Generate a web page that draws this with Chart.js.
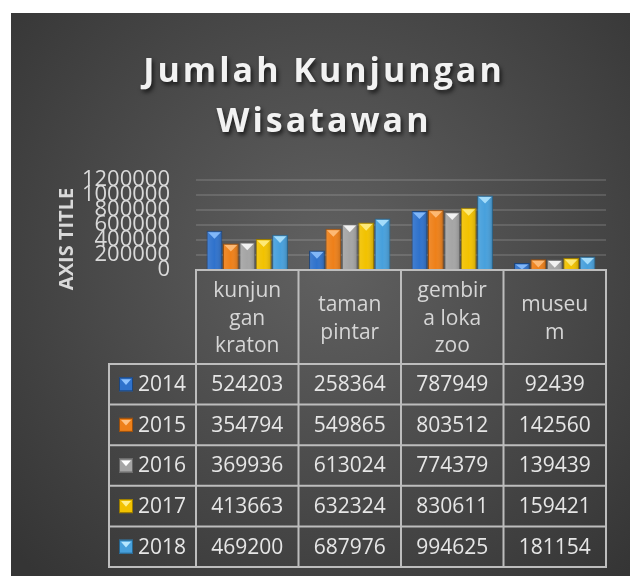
<!DOCTYPE html>
<html><head><meta charset="utf-8">
<script src="https://cdn.jsdelivr.net/npm/chart.js@4"></script>
<style>html,body{margin:0;padding:0;background:#fff}canvas{display:block}</style>
</head><body>
<canvas id="c" width="630" height="576"></canvas>
<script>
// ---- data ----
const titleLines = ['Jumlah Kunjungan', 'Wisatawan'];
const axisTitle = 'AXIS TITLE';
const categories = [['kunjun', 'gan', 'kraton'], ['taman', 'pintar'], ['gembir', 'a loka', 'zoo'], ['museu', 'm']];
const years = ['2014', '2015', '2016', '2017', '2018'];
const v2014 = [524203, 258364, 787949, 92439];
const v2015 = [354794, 549865, 803512, 142560];
const v2016 = [369936, 613024, 774379, 139439];
const v2017 = [413663, 632324, 830611, 159421];
const v2018 = [469200, 687976, 994625, 181154];
const yMin = 0, yMax = 1200000, yStep = 200000;

const seriesValues = [v2014, v2015, v2016, v2017, v2018];
const fills   = ['#2f72cc', '#ee8019', '#a5a5a5', '#f2c200', '#47a0dc'];
const borders = ['#1c467e', '#9a4f0e', '#666666', '#9a7c00', '#27668f'];
const tris    = ['#8fc3ff', '#ffc384', '#ffffff', '#fff08c', '#b4e6ff'];
const FONT = '"Open Sans", "Noto Sans", sans-serif';

const bgPlugin = {
  id: 'bg',
  beforeDraw(chart) {
    const ctx = chart.ctx;
    ctx.save();
    ctx.fillStyle = '#ffffff';
    ctx.fillRect(0, 0, chart.width, chart.height);
    const g = ctx.createRadialGradient(330, 260, 10, 330, 260, 430);
    g.addColorStop(0, '#606060');
    g.addColorStop(1, '#353535');
    ctx.fillStyle = g;
    ctx.fillRect(11, 13, chart.width - 11, chart.height - 13);
    ctx.restore();
  }
};

const barDeco = {
  id: 'barDeco',
  afterDatasetsDraw(chart) {
    const ctx = chart.ctx;
    ctx.save();
    chart.data.datasets.forEach((ds, di) => {
      const meta = chart.getDatasetMeta(di);
      meta.data.forEach(bar => {
        const w = bar.width, l = bar.x - w / 2, r = bar.x + w / 2, t = bar.y, b = bar.base;
        const g = ctx.createLinearGradient(l, 0, r, 0);
        g.addColorStop(0, 'rgba(255,255,255,0.10)');
        g.addColorStop(0.5, 'rgba(255,255,255,0.0)');
        g.addColorStop(1, 'rgba(0,0,0,0.18)');
        ctx.fillStyle = g;
        ctx.fillRect(l + 1, t + 1, w - 2, b - t - 1);
        const th = Math.min(w * 0.42, b - t - 1);
        ctx.beginPath();
        ctx.moveTo(l + 1.5, t + 1.5);
        ctx.lineTo(r - 1.5, t + 1.5);
        ctx.lineTo(bar.x, t + 1.5 + th);
        ctx.closePath();
        ctx.fillStyle = tris[di];
        ctx.globalAlpha = 0.85;
        ctx.fill();
        ctx.globalAlpha = 1;
      });
    });
    ctx.restore();
  }
};

function drawKey(ctx, x, y, s, di) {
  ctx.fillStyle = fills[di];
  ctx.fillRect(x, y, s, s);
  ctx.strokeStyle = borders[di];
  ctx.lineWidth = 1;
  ctx.strokeRect(x + 0.5, y + 0.5, s - 1, s - 1);
  ctx.beginPath();
  ctx.moveTo(x + 2, y + 2);
  ctx.lineTo(x + s - 2, y + 2);
  ctx.lineTo(x + s / 2, y + s * 0.55);
  ctx.closePath();
  ctx.fillStyle = tris[di];
  ctx.fill();
}

const tablePlugin = {
  id: 'table',
  afterDraw(chart) {
    const ctx = chart.ctx;
    const area = chart.chartArea;
    const xs = chart.scales.x;
    const n = categories.length;
    const colW = (area.right - area.left) / n;
    const tableLeft = 109, headTop = area.bottom, headBot = 364, rowH = 40.6;
    const rowsBottom = headBot + rowH * years.length;
    ctx.save();
    // grid lines of table
    ctx.strokeStyle = '#bdbdbd';
    ctx.lineWidth = 2;
    ctx.beginPath();
    for (let i = 0; i <= n; i++) {
      const x = area.left + i * colW;
      ctx.moveTo(x, headTop); ctx.lineTo(x, rowsBottom);
    }
    ctx.moveTo(tableLeft, headBot); ctx.lineTo(tableLeft, rowsBottom);
    for (let r = 0; r <= years.length; r++) {
      const y = headBot + r * rowH;
      ctx.moveTo(tableLeft - 1, y); ctx.lineTo(area.right + 1, y);
    }
    ctx.stroke();
    // header labels
    ctx.font = '21px ' + FONT;
    ctx.fillStyle = '#d6d6d6';
    ctx.textAlign = 'center';
    ctx.textBaseline = 'middle';
    const lh = 27.5;
    const hc = (headTop + headBot) / 2 + 2;
    categories.forEach((lines, i) => {
      const cx = xs.getPixelForValue(i);
      const start = hc - (lines.length * lh) / 2 + lh / 2;
      lines.forEach((t, k) => ctx.fillText(t, cx, start + k * lh));
    });
    // rows
    years.forEach((yr, r) => {
      const cy = headBot + r * rowH + rowH / 2 + 1;
      drawKey(ctx, 119, cy - 8, 14, r);
      ctx.fillStyle = '#e6e6e6';
      ctx.textAlign = 'left';
      ctx.fillText(yr, 138, cy);
      ctx.textAlign = 'center';
      seriesValues[r].forEach((v, i) => {
        ctx.fillText(String(v), xs.getPixelForValue(i), cy);
      });
    });
    // title
    ctx.font = 'bold 34px ' + FONT;
    ctx.letterSpacing = '3px';
    ctx.textAlign = 'center';
    ctx.textBaseline = 'alphabetic';
    ctx.shadowColor = 'rgba(0,0,0,0.65)';
    ctx.shadowBlur = 4;
    ctx.shadowOffsetX = 2;
    ctx.shadowOffsetY = 3;
    ctx.fillStyle = '#f2f2f2';
    ctx.fillText(titleLines[0], 324, 82);
    ctx.fillText(titleLines[1], 324, 132);
    ctx.shadowColor = 'transparent';
    ctx.letterSpacing = '0px';
    // axis title
    ctx.translate(67, 239);
    ctx.rotate(-Math.PI / 2);
    ctx.font = 'bold 20px ' + FONT;
    ctx.fillStyle = '#d9d9d9';
    ctx.textAlign = 'center';
    ctx.textBaseline = 'middle';
    ctx.fillText(axisTitle, 0, 0);
    ctx.restore();
  }
};

new Chart(document.getElementById('c'), {
  type: 'bar',
  data: {
    labels: categories.map(c => c.join('')),
    datasets: years.map((yr, i) => ({
      label: yr,
      data: seriesValues[i],
      backgroundColor: fills[i],
      borderColor: borders[i],
      borderWidth: 1,
      barPercentage: 0.96,
      categoryPercentage: 0.8
    }))
  },
  options: {
    responsive: false,
    animation: false,
    devicePixelRatio: 1,
    layout: { padding: { top: 180, right: 24, left: 0, bottom: 0 } },
    plugins: { legend: { display: false }, tooltip: { enabled: false }, title: { display: false } },
    scales: {
      x: {
        grid: { display: false },
        ticks: { display: false },
        border: { display: true, color: '#bdbdbd', width: 2 },
        afterFit(s) { s.height = 306; }
      },
      y: {
        min: yMin, max: yMax,
        ticks: { stepSize: yStep, autoSkip: false, color: '#d9d9d9', font: { family: FONT, size: 22 }, padding: 26,
                 callback: v => String(v) },
        grid: { color: 'rgba(255,255,255,0.13)', lineWidth: 2, drawTicks: false },
        border: { display: false },
        afterFit(s) { s.width = 196; }
      }
    }
  },
  plugins: [bgPlugin, barDeco, tablePlugin]
});
</script>
</body></html>
